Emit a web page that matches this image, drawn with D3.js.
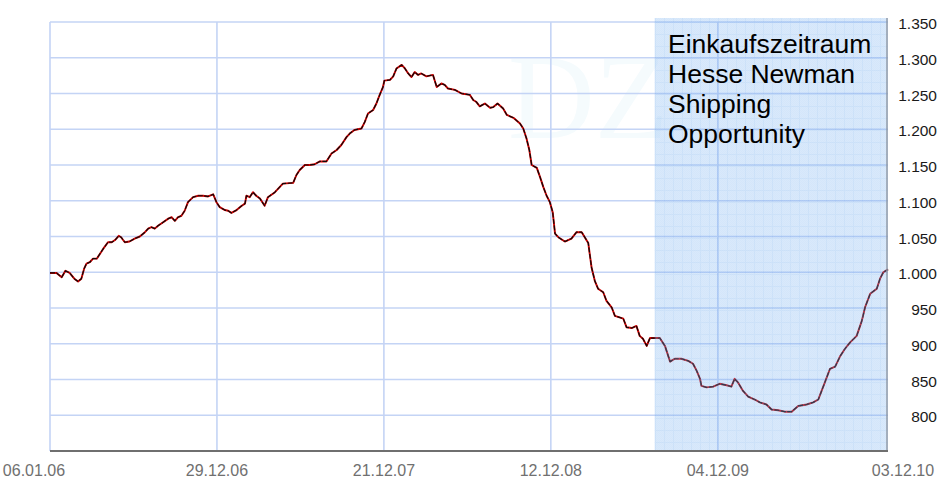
<!DOCTYPE html>
<html>
<head>
<meta charset="utf-8">
<script src="https://cdn.jsdelivr.net/npm/d3@7"></script>
<style>
  body { margin: 0; background: #fff; }
</style>
</head>
<body>
<svg width="952" height="480"></svg>
<script>
// price series
var dates = [
  "2006-01-06","2006-01-20","2006-01-31","2006-02-08","2006-02-17","2006-02-27","2006-03-07","2006-03-14",
  "2006-03-20","2006-03-25","2006-04-01","2006-04-08","2006-04-16","2006-04-23","2006-04-30","2006-05-10",
  "2006-05-18","2006-05-25","2006-06-02","2006-06-07","2006-06-15","2006-06-25","2006-07-06","2006-07-17",
  "2006-07-28","2006-08-04","2006-08-11","2006-08-18","2006-08-25","2006-09-05","2006-09-16","2006-09-23",
  "2006-09-30","2006-10-07","2006-10-14","2006-10-21","2006-10-28","2006-11-08","2006-11-19","2006-11-29",
  "2006-12-10","2006-12-21","2006-12-28","2007-01-04","2007-01-15","2007-01-22","2007-01-29","2007-02-09",
  "2007-02-20","2007-02-27","2007-03-02","2007-03-09","2007-03-16","2007-03-23","2007-03-31","2007-04-10",
  "2007-04-17","2007-05-02","2007-05-19","2007-06-10","2007-06-17","2007-06-24","2007-07-05","2007-07-15",
  "2007-07-26","2007-08-06","2007-08-20","2007-08-31","2007-09-11","2007-09-21","2007-10-02","2007-10-09",
  "2007-10-19","2007-11-03","2007-11-10","2007-11-17","2007-11-28","2007-12-05","2007-12-12","2007-12-19",
  "2007-12-22","2008-01-03","2008-01-10","2008-01-17","2008-01-28","2008-02-04","2008-02-11","2008-02-18",
  "2008-02-25","2008-03-03","2008-03-10","2008-03-21","2008-04-04","2008-04-12","2008-04-22","2008-04-29",
  "2008-05-06","2008-05-21","2008-06-04","2008-06-22","2008-06-29","2008-07-06","2008-07-13","2008-07-24",
  "2008-08-04","2008-08-11","2008-08-20","2008-09-01","2008-09-09","2008-09-23","2008-10-07","2008-10-14",
  "2008-10-21","2008-10-27","2008-11-01","2008-11-12","2008-11-19","2008-11-26","2008-12-03","2008-12-10",
  "2008-12-16","2008-12-21","2008-12-28","2009-01-11","2009-01-25","2009-02-05","2009-02-16","2009-03-02",
  "2009-03-09","2009-03-16","2009-03-23","2009-04-03","2009-04-10","2009-04-21","2009-04-28","2009-05-16",
  "2009-05-23","2009-06-03","2009-06-13","2009-06-20","2009-06-27","2009-07-05","2009-07-12","2009-07-22",
  "2009-08-02","2009-08-13","2009-08-24","2009-09-03","2009-09-17","2009-10-02","2009-10-12","2009-10-20",
  "2009-10-27","2009-10-30","2009-11-10","2009-11-24","2009-12-08","2009-12-23","2010-01-02","2010-01-09",
  "2010-01-16","2010-01-27","2010-02-07","2010-02-21","2010-03-04","2010-03-18","2010-03-29","2010-04-12",
  "2010-04-26","2010-05-11","2010-05-25","2010-06-12","2010-06-26","2010-07-07","2010-07-14","2010-07-21",
  "2010-08-01","2010-08-12","2010-08-23","2010-09-02","2010-09-13","2010-09-27","2010-10-08","2010-10-15",
  "2010-10-26","2010-11-09","2010-11-16","2010-11-23","2010-12-03"
];
var values = [
  999, 999, 993, 1002, 999, 991, 987, 991,
  1005, 1012, 1014, 1019, 1019, 1026, 1033, 1042,
  1042, 1045, 1051, 1049, 1042, 1043, 1047, 1050,
  1056, 1061, 1063, 1061, 1065, 1070, 1075, 1077,
  1072, 1077, 1079, 1086, 1098, 1105, 1107, 1107,
  1106, 1109, 1098, 1091, 1087, 1086, 1083, 1087,
  1093, 1096, 1107, 1105, 1112, 1107, 1103, 1093,
  1105, 1112, 1124, 1125, 1136, 1143, 1150, 1150,
  1151, 1155, 1155, 1166, 1171, 1178, 1189, 1194,
  1199, 1201, 1210, 1222, 1227, 1236, 1248, 1259,
  1268, 1269, 1274, 1285, 1290, 1285, 1278, 1273,
  1280, 1276, 1278, 1274, 1276, 1259, 1264, 1262,
  1257, 1255, 1250, 1248, 1241, 1238, 1232, 1236,
  1230, 1231, 1236, 1229, 1220, 1216, 1208, 1201,
  1187, 1171, 1150, 1146, 1133, 1119, 1107, 1098,
  1084, 1054, 1049, 1043, 1047, 1056, 1056, 1041,
  1007, 988, 977, 972, 960, 951, 939, 935,
  923, 922, 925, 911, 907, 897, 908, 908,
  908, 897, 875, 879, 879, 876, 872, 862,
  851, 841, 839, 840, 844, 842, 840, 851,
  846, 834, 826, 822, 818, 815, 808, 807,
  805, 805, 813, 815, 818, 822, 834, 846,
  865, 868, 883, 893, 902, 911, 932, 951,
  970, 977, 991, 1000, 1004
];

var xTickLabels = ["06.01.06", "29.12.06", "21.12.07", "12.12.08", "04.12.09", "03.12.10"];
var yTickValues = [800, 850, 900, 950, 1000, 1050, 1100, 1150, 1200, 1250, 1300, 1350];
var yDomain = [750, 1350];

// buying period (shaded)
var periodStart = "22.07.09";
var periodEnd = "03.12.10";
var noteLines = ["Einkaufszeitraum", "Hesse Newman", "Shipping", "Opportunity"];

var svg = d3.select("svg");

var parseIso = d3.timeParse("%Y-%m-%d"),
    parseDe = d3.timeParse("%d.%m.%y");

var data = dates.map(function(d, i) { return { date: parseIso(d), value: values[i] }; });

var plot = { left: 50, right: 888, top: 22, bottom: 451 };

var x = d3.scaleTime()
    .domain([parseDe(xTickLabels[0]), parseDe(xTickLabels[xTickLabels.length - 1])])
    .range([plot.left, plot.right]);

var y = d3.scaleLinear()
    .domain(yDomain)
    .range([plot.bottom, plot.top]);

var de = d3.formatLocale({ decimal: ",", thousands: ".", grouping: [3], currency: ["", " €"] });
var fmt = de.format(",d");

// patterns for the shaded period
var defs = svg.append("defs");
var dots = defs.append("pattern")
    .attr("id", "dots")
    .attr("patternUnits", "userSpaceOnUse")
    .attr("width", 2).attr("height", 2);
dots.append("rect").attr("width", 2).attr("height", 2).attr("fill", "#80b6f2");
dots.append("rect").attr("width", 1).attr("height", 1).attr("fill", "#70aaee");
dots.append("rect").attr("x", 1).attr("y", 1).attr("width", 1).attr("height", 1).attr("fill", "#70aaee");

var fine = defs.append("pattern")
    .attr("id", "fine")
    .attr("patternUnits", "userSpaceOnUse")
    .attr("x", 655).attr("y", 22)
    .attr("width", 9).attr("height", 12);
fine.append("rect").attr("width", 9).attr("height", 1).attr("fill", "#5d9be6");
fine.append("rect").attr("width", 1).attr("height", 12).attr("fill", "#5d9be6");

// faint watermark
svg.append("text")
    .attr("x", 508)
    .attr("y", 138)
    .attr("font-family", "Liberation Serif, serif")
    .attr("font-size", 120)
    .attr("fill", "#f5fbfd")
    .text("DZ");

// grid
var grid = svg.append("g").attr("class", "grid");

grid.selectAll("line.h")
    .data(yTickValues)
    .enter().append("line")
    .attr("class", "h")
    .attr("x1", plot.left).attr("x2", plot.right)
    .attr("y1", function(d) { return y(d); })
    .attr("y2", function(d) { return y(d); })
    .attr("stroke", "#c4d4f5")
    .attr("stroke-width", 1.6);

grid.selectAll("line.v")
    .data(xTickLabels.slice(0, -1))
    .enter().append("line")
    .attr("class", "v")
    .attr("x1", function(d) { return x(parseDe(d)); })
    .attr("x2", function(d) { return x(parseDe(d)); })
    .attr("y1", plot.top).attr("y2", plot.bottom)
    .attr("stroke", "#c4d4f5")
    .attr("stroke-width", 1.6);

// price line: red under a thin black one
var line = d3.line()
    .x(function(d) { return x(d.date); })
    .y(function(d) { return y(d.value); });

svg.append("path")
    .datum(data)
    .attr("fill", "none")
    .attr("stroke", "#d40000")
    .attr("stroke-width", 1.9)
    .attr("stroke-linejoin", "round")
    .attr("d", line);

svg.append("path")
    .datum(data)
    .attr("fill", "none")
    .attr("stroke", "#0a0a0a")
    .attr("stroke-width", 1.2)
    .attr("stroke-dasharray", "5,1.5")
    .attr("stroke-linejoin", "round")
    .attr("d", line);

// shaded buying period, semi transparent over the line
var x0 = x(parseDe(periodStart)), x1 = x(parseDe(periodEnd));
svg.append("rect")
    .attr("x", x0).attr("y", plot.top - 4)
    .attr("width", x1 - x0).attr("height", plot.bottom - plot.top + 5)
    .attr("fill", "url(#dots)")
    .attr("opacity", 0.3);
svg.append("rect")
    .attr("x", x0).attr("y", plot.top - 4)
    .attr("width", x1 - x0).attr("height", plot.bottom - plot.top + 5)
    .attr("fill", "url(#fine)")
    .attr("opacity", 0.08);

svg.append("line")
    .attr("x1", x1 - 1).attr("x2", x1 - 1)
    .attr("y1", plot.top - 4).attr("y2", plot.bottom + 1)
    .attr("stroke", "#8d96a3")
    .attr("stroke-width", 1.4);

// bottom axis line
svg.append("line")
    .attr("x1", plot.left).attr("x2", plot.right)
    .attr("y1", plot.bottom).attr("y2", plot.bottom)
    .attr("stroke", "#6f6f6f")
    .attr("stroke-width", 2);

// y labels (right side)
svg.append("g")
    .selectAll("text")
    .data(yTickValues)
    .enter().append("text")
    .attr("x", 937)
    .attr("y", function(d) { return y(d) + 7; })
    .attr("text-anchor", "end")
    .attr("font-family", "Liberation Sans, Arial, sans-serif")
    .attr("font-size", 15.5)
    .attr("fill", "#1a1a1a")
    .text(function(d) { return fmt(d); });

// x labels
svg.append("g")
    .selectAll("text")
    .data(xTickLabels)
    .enter().append("text")
    .attr("x", function(d, i) {
      var px = x(parseDe(d));
      if (i === 0) return px - 16;
      if (i === xTickLabels.length - 1) return px + 15;
      return px;
    })
    .attr("y", 476)
    .attr("text-anchor", "middle")
    .attr("font-family", "Liberation Sans Narrow, Arial Narrow, sans-serif")
    .attr("font-size", 16)
    .attr("fill", "#707070")
    .text(function(d) { return d; });

// note inside the shaded period
svg.append("g")
    .selectAll("text")
    .data(noteLines)
    .enter().append("text")
    .attr("x", 668)
    .attr("y", function(d, i) { return 53 + i * 30; })
    .attr("font-family", "Liberation Sans, Arial, sans-serif")
    .attr("font-size", 26.5)
    .attr("fill", "#000")
    .text(function(d) { return d; });
</script>
</body>
</html>
